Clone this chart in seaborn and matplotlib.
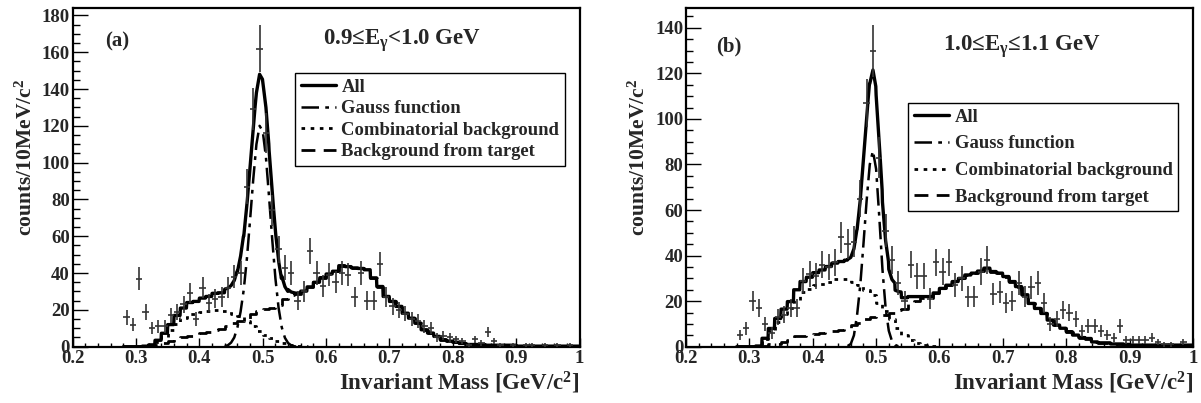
import numpy as np
import matplotlib
matplotlib.use("Agg")
import matplotlib.pyplot as plt
import seaborn as sns
from matplotlib.lines import Line2D
from matplotlib.ticker import FixedLocator, FixedFormatter, MultipleLocator

# ---------------- data ----------------
bin_lo = [0.28, 0.29, 0.30, 0.31, 0.32, 0.33, 0.34, 0.35, 0.36, 0.37, 0.38, 0.39,
          0.40, 0.41, 0.42, 0.43, 0.44, 0.45, 0.46, 0.47, 0.48, 0.49, 0.50, 0.51,
          0.52, 0.53, 0.54, 0.55, 0.56, 0.57, 0.58, 0.59, 0.60, 0.61, 0.62, 0.63,
          0.64, 0.65, 0.66, 0.67, 0.68, 0.69, 0.70, 0.71, 0.72, 0.73, 0.74, 0.75,
          0.76, 0.77, 0.78, 0.79, 0.80, 0.81, 0.82, 0.83, 0.84, 0.85, 0.86, 0.87,
          0.88, 0.89, 0.90, 0.91, 0.92, 0.93, 0.94, 0.95, 0.96, 0.97, 0.98, 0.99]
bin_hi_last = 1.00
bin_center = [0.285, 0.295, 0.305, 0.315, 0.325, 0.335, 0.345, 0.355, 0.365, 0.375, 0.385, 0.395,
              0.405, 0.415, 0.425, 0.435, 0.445, 0.455, 0.465, 0.475, 0.485, 0.495, 0.505, 0.515,
              0.525, 0.535, 0.545, 0.555, 0.565, 0.575, 0.585, 0.595, 0.605, 0.615, 0.625, 0.635,
              0.645, 0.655, 0.665, 0.675, 0.685, 0.695, 0.705, 0.715, 0.725, 0.735, 0.745, 0.755,
              0.765, 0.775, 0.785, 0.795, 0.805, 0.815, 0.825, 0.835, 0.845, 0.855, 0.865, 0.875,
              0.885, 0.895, 0.905, 0.915, 0.925, 0.935, 0.945, 0.955, 0.965, 0.975, 0.985, 0.995]

# panel (a): 0.9 <= E_gamma < 1.0 GeV
counts_a = [16, 12, 37, 19, 10, 11, 11, 17, 19, 23, 29, 15,
            32, 24, 26, 27, 32, 38, 40, 87, 129, 162, 116, 74,
            53, 43, 40, 25, 30, 52, 40, 33, 39, 35, 40, 39,
            27, 40, 25, 25, 45, 27, 22, 20, 18, 15, 14, 11,
            10, 5, 6, 5, 4, 3, 1, 4, 2, 8, 3, 1,
            0, 1, 0, 1, 1, 0, 1, 0, 1, 0, 1, 0]
comb_a = [0, 0, 0, 0.3, 0.7, 2.5, 5.5, 9, 12.5, 15.5, 18, 18,
          19, 19.5, 20, 19.5, 19.5, 18, 16.5, 14, 11, 8.5, 6.5, 4.5,
          3, 1.8, 1, 0.5, 0.2, 0, 0, 0, 0, 0, 0, 0,
          0, 0, 0, 0, 0, 0, 0, 0, 0, 0, 0, 0,
          0, 0, 0, 0, 0, 0, 0, 0, 0, 0, 0, 0,
          0, 0, 0, 0, 0, 0, 0, 0, 0, 0, 0, 0]
target_a = [0, 0, 0, 0, 0.3, 1, 1.8, 3, 4.5, 5.5, 6, 6.6,
            7.4, 7.8, 9, 9.8, 11.5, 13, 13.7, 15, 17.5, 19.5, 20.5, 21,
            22.5, 26, 28, 28.5, 30, 32.5, 35, 37.5, 39.5, 41, 44, 43.5,
            42.8, 42.5, 41.8, 37.4, 32.7, 27.3, 24.6, 21.9, 18.2, 15.5, 12.8, 9.2,
            7.4, 5.6, 3.8, 3, 2.4, 1.8, 1.2, 1.2, 1.2, 0.8, 0.8, 0.8,
            0.8, 0.8, 0.3, 0.3, 0.3, 0.3, 0.3, 0.3, 0.3, 0.3, 0.3, 0.3]
gauss_x_a = [0.440, 0.445, 0.450, 0.455, 0.460, 0.465, 0.470, 0.475, 0.480, 0.485, 0.490, 0.495,
             0.500, 0.505, 0.510, 0.515, 0.520, 0.525, 0.530, 0.535, 0.540, 0.545, 0.550, 0.555]
gauss_y_a = [0.3, 0.8, 2.2, 5, 10.5, 19, 31, 48, 69, 91, 110, 120,
             117, 103, 81, 58, 37, 21, 10.5, 4.8, 2, 0.7, 0.2, 0]

# panel (b): 1.0 <= E_gamma <= 1.1 GeV
counts_b = [5, 8, 20, 17, 10, 6, 13, 14, 17, 17, 29, 32,
            31, 36, 35, 37, 48, 45, 46, 65, 107, 130, 83, 51,
            38, 28, 20, 36, 31, 31, 21, 37, 33, 37, 27, 30,
            22, 22, 33, 38, 23, 24, 19, 20, 28, 22, 26, 28,
            19, 10, 12, 16, 15, 12, 7, 9, 9, 7, 5, 4,
            9, 3, 3, 3, 3, 4, 2, 1, 1, 0, 2, 0]
comb_b = [0, 0, 0, 0.3, 3.4, 7, 11, 14.3, 16.8, 20.5, 23.8, 25.5,
          27, 27.7, 28.6, 29.7, 29.9, 29.9, 28.5, 27, 25, 22.5, 19, 15.5,
          12, 8, 5, 3, 1.8, 0.8, 0.4, 0.1, 0, 0, 0, 0,
          0, 0, 0, 0, 0, 0, 0, 0, 0, 0, 0, 0,
          0, 0, 0, 0, 0, 0, 0, 0, 0, 0, 0, 0,
          0, 0, 0, 0, 0, 0, 0, 0, 0, 0, 0, 0]
target_b = [0, 0, 0, 0, 0.3, 1, 1.4, 2.2, 3, 4.5, 4.8, 5,
            5.5, 6, 6.6, 7, 7.5, 8.1, 9.5, 10.5, 12, 13, 13.5, 14,
            15, 16, 16.5, 19, 20.2, 21.2, 21.6, 23.5, 25.6, 27, 28.6, 30,
            31.5, 32.3, 33.2, 34.5, 33, 32.3, 30.8, 28.6, 26.4, 22.8, 19, 16.8,
            14.6, 11.7, 9.5, 8.1, 6.6, 5.1, 4, 3.6, 2.1, 1.7, 1.7, 1.2,
            1.2, 1, 0.7, 0.7, 0.7, 0.7, 0.7, 0.7, 0.7, 0.7, 0.7, 0.7]
gauss_x_b = [0.455, 0.460, 0.465, 0.470, 0.475, 0.480, 0.485, 0.490, 0.495,
             0.500, 0.505, 0.510, 0.515, 0.520, 0.525, 0.530, 0.535, 0.540]
gauss_y_b = [0.3, 1.2, 5, 14, 27, 45, 64, 80, 86,
             78, 57, 34, 17, 7, 2.5, 0.8, 0.2, 0]

panel_tags = ["(a)", "(b)"]
panel_titles = ["0.9\u2264E$_{\\gamma}$<1.0 GeV", "1.0\u2264E$_{\\gamma}$\u22641.1 GeV"]
legend_labels = ["All", "Gauss function", "Combinatorial background", "Background from target"]
x_ticks = [0.2, 0.3, 0.4, 0.5, 0.6, 0.7, 0.8, 0.9, 1.0]
x_tick_labels = ["0.2", "0.3", "0.4", "0.5", "0.6", "0.7", "0.8", "0.9", "1"]
y_ticks_a = [0, 20, 40, 60, 80, 100, 120, 140, 160, 180]
y_ticks_b = [0, 20, 40, 60, 80, 100, 120, 140]

# ---------------- style ----------------
sns.set_theme(style="white")
plt.rcParams["font.family"] = ["Liberation Serif", "DejaVu Serif"]
plt.rcParams["font.weight"] = "bold"
plt.rcParams["axes.labelweight"] = "bold"
plt.rcParams["mathtext.fontset"] = "custom"
plt.rcParams["mathtext.rm"] = "Liberation Serif:bold"
plt.rcParams["mathtext.bf"] = "Liberation Serif:bold"
plt.rcParams["mathtext.it"] = "Liberation Serif:bold"
plt.rcParams["mathtext.default"] = "rm"

LS_ALL = "-"
LS_GAUSS = (0, (7, 2.5, 1.5, 2.5))
LS_COMB = (0, (1.3, 2.0))
LS_TARGET = (0, (5, 3))

fig = plt.figure(figsize=(12.01, 4.03), dpi=100)
ax_a = fig.add_axes([0.0605, 0.1397, 0.4221, 0.8404])
ax_b = fig.add_axes([0.5712, 0.1397, 0.4221, 0.8404])

panels = [
    dict(ax=ax_a, counts=counts_a, comb=comb_a, target=target_a, gx=gauss_x_a, gy=gauss_y_a,
         ymax=184, yticks=y_ticks_a, tag=panel_tags[0], title=panel_titles[0],
         tag_pos=(0.087, 0.90), title_pos=(0.65, 0.905),
         leg_anchor=(0.4385, 0.808), leg_spacing=0.24),
    dict(ax=ax_b, counts=counts_b, comb=comb_b, target=target_b, gx=gauss_x_b, gy=gauss_y_b,
         ymax=148.7, yticks=y_ticks_b, tag=panel_tags[1], title=panel_titles[1],
         tag_pos=(0.085, 0.885), title_pos=(0.663, 0.885),
         leg_anchor=(0.438, 0.7195), leg_spacing=0.52),
]

edges = np.array(bin_lo + [bin_hi_last])
x_fine = np.linspace(0.28, 1.0, 1441)

for p in panels:
    ax = p["ax"]
    comb = np.array(p["comb"], dtype=float)
    target = np.array(p["target"], dtype=float)
    counts = np.array(p["counts"], dtype=float)
    centers = np.array(bin_center)

    # step components
    sns.lineplot(x=edges, y=np.append(target, target[-1]), ax=ax, color="black",
                 linewidth=2.0, linestyle=LS_TARGET, drawstyle="steps-post",
                 estimator=None, sort=False, legend=False)
    sns.lineplot(x=edges, y=np.append(comb, comb[-1]), ax=ax, color="black",
                 linewidth=2.0, linestyle=LS_COMB, drawstyle="steps-post",
                 estimator=None, sort=False, legend=False)
    sns.lineplot(x=np.array(p["gx"]), y=np.array(p["gy"]), ax=ax, color="black",
                 linewidth=1.8, linestyle=LS_GAUSS, estimator=None, sort=False, legend=False)

    # total = background templates + gauss, drawn as a fine curve
    idx = np.clip(np.floor((x_fine - 0.28) / 0.01 + 1e-9).astype(int), 0, len(bin_lo) - 1)
    total = comb[idx] + target[idx] + np.interp(x_fine, p["gx"], p["gy"], left=0, right=0)
    sns.lineplot(x=x_fine, y=total, ax=ax, color="black", linewidth=2.4, linestyle=LS_ALL,
                 estimator=None, sort=False, legend=False)

    # data points with errors
    m = counts > 0
    ax.errorbar(centers[m], counts[m], yerr=np.sqrt(counts[m]), xerr=0.005,
                fmt="none", ecolor="#333333", elinewidth=1.2, capsize=0, zorder=5)

    ax.set_xlim(0.2, 1.0)
    ax.set_ylim(0, p["ymax"])
    ax.xaxis.set_major_locator(FixedLocator(x_ticks))
    ax.xaxis.set_major_formatter(FixedFormatter(x_tick_labels))
    ax.xaxis.set_minor_locator(MultipleLocator(0.02))
    ax.yaxis.set_major_locator(FixedLocator(p["yticks"]))
    ax.yaxis.set_minor_locator(MultipleLocator(5))
    ax.tick_params(axis="x", which="major", direction="in", length=6.5, width=1.0, color="black",
                   labelsize=13.5, pad=2.5, bottom=True, top=False)
    ax.tick_params(axis="x", which="minor", direction="in", length=3.2, width=1.0, color="black",
                   bottom=True, top=False)
    ax.tick_params(axis="y", which="major", direction="in", length=10.5, width=1.0, color="black",
                   labelsize=13.5, pad=2, left=True, right=False)
    ax.tick_params(axis="y", which="minor", direction="in", length=5, width=1.0, color="black",
                   left=True, right=False)
    for t in ax.get_xticklabels() + ax.get_yticklabels():
        t.set_fontweight("bold")
    for s in ax.spines.values():
        s.set_color("black")
        s.set_linewidth(1.6)
    ax.grid(False)

    ax.set_xlabel("Invariant Mass [GeV/c$^{2}$]", fontsize=16.5, fontweight="bold", loc="right")
    ax.xaxis.set_label_coords(1.0, -0.068)
    ax.set_ylabel("counts/10MeV/c$^{2}$", fontsize=15.5, fontweight="bold", loc="top")
    ax.yaxis.set_label_coords(-0.071, 0.79)

    ax.text(p["tag_pos"][0], p["tag_pos"][1], p["tag"], transform=ax.transAxes,
            fontsize=15, fontweight="bold", ha="center", va="center")
    ax.text(p["title_pos"][0], p["title_pos"][1], p["title"], transform=ax.transAxes,
            fontsize=16.5, fontweight="bold", ha="center", va="center")

    handles = [
        Line2D([0], [0], color="black", lw=2.4, linestyle=LS_ALL),
        Line2D([0], [0], color="black", lw=1.8, linestyle=LS_GAUSS),
        Line2D([0], [0], color="black", lw=2.0, linestyle=LS_COMB),
        Line2D([0], [0], color="black", lw=2.0, linestyle=LS_TARGET),
    ]
    leg = ax.legend(handles, legend_labels, loc="upper left", bbox_to_anchor=p["leg_anchor"],
                    bbox_transform=ax.transAxes, borderaxespad=0, fancybox=False,
                    framealpha=1, edgecolor="black", handlelength=1.9, handletextpad=0.3,
                    borderpad=0.3, labelspacing=p["leg_spacing"],
                    prop={"family": "Liberation Serif", "weight": "bold", "size": 13.4})
    leg.get_frame().set_linewidth(1.0)

fig.savefig("out.png", dpi=100)
